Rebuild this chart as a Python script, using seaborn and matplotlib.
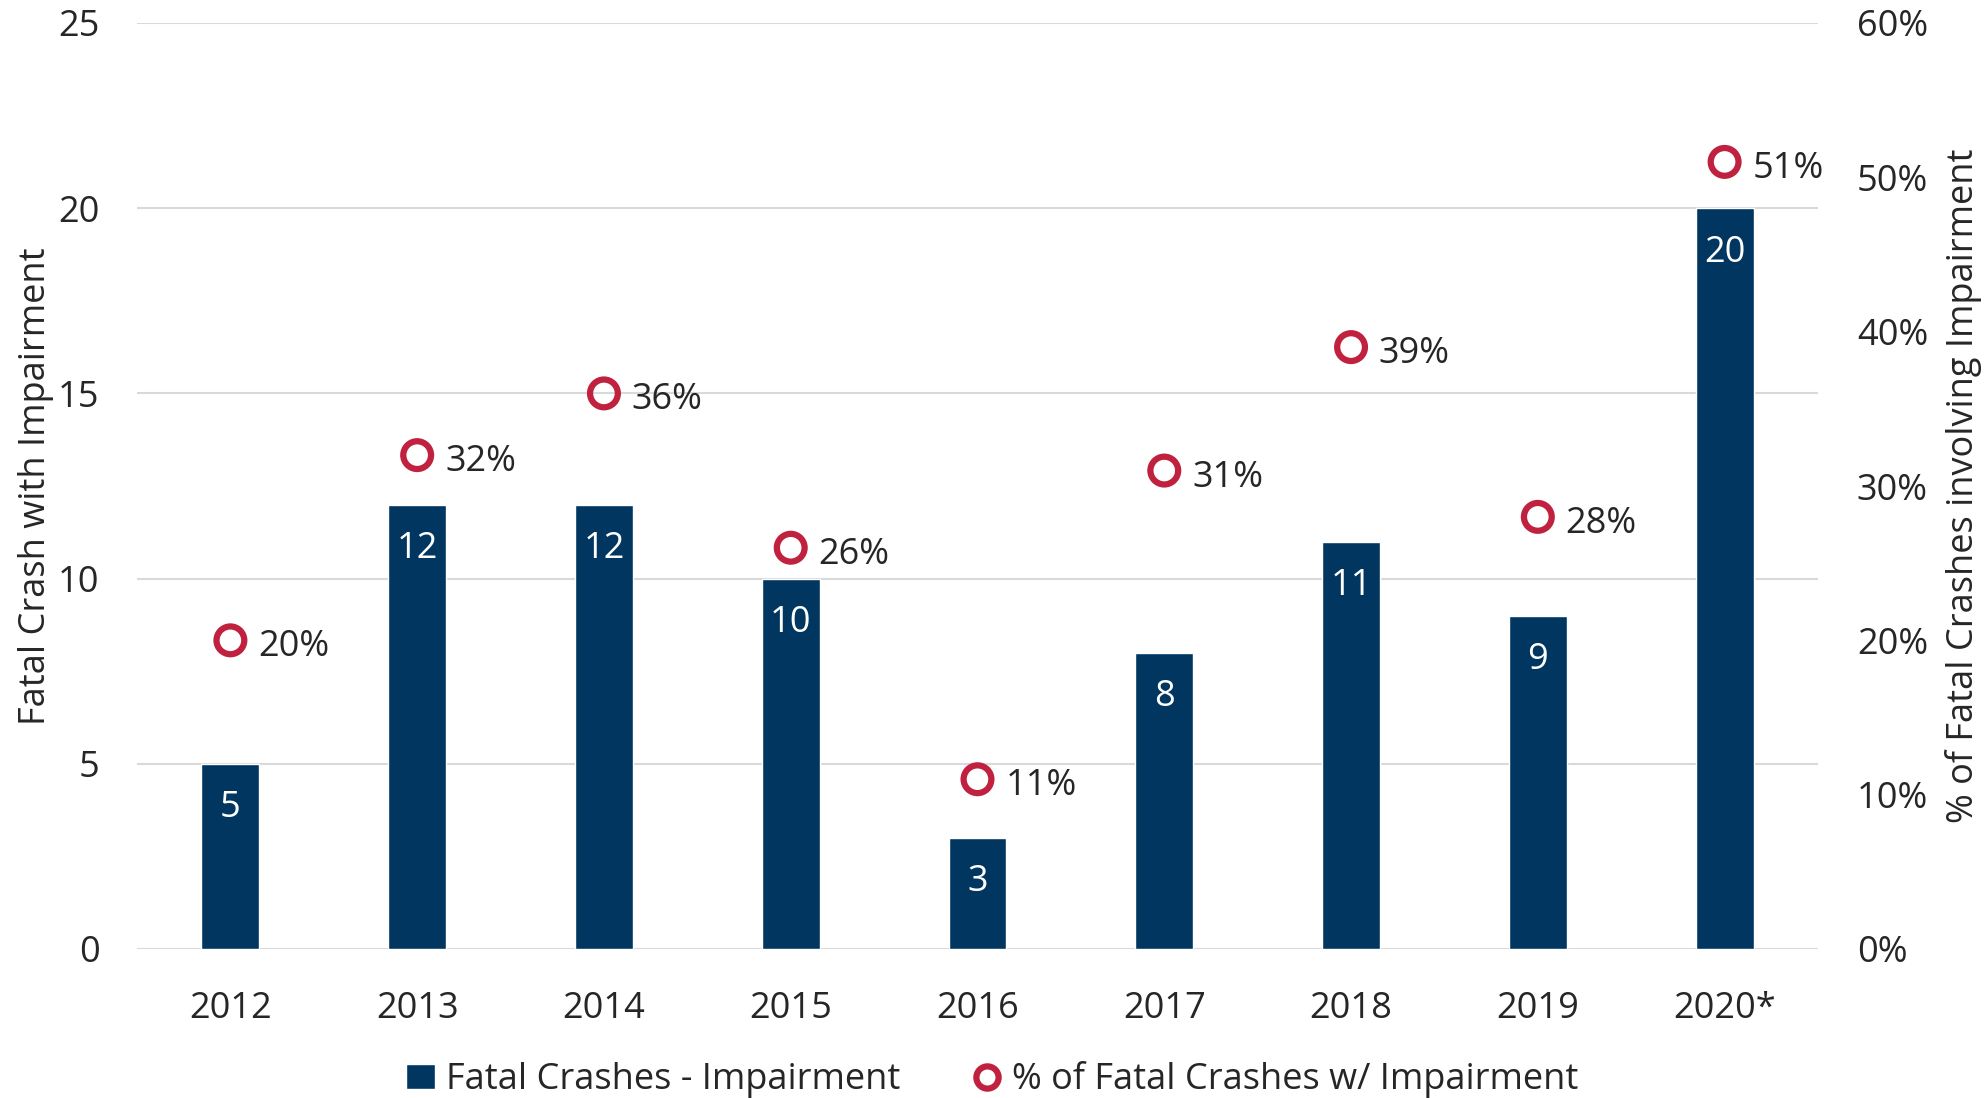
import matplotlib
matplotlib.use("Agg")
import matplotlib.pyplot as plt
import seaborn as sns
import pandas as pd
from matplotlib.lines import Line2D
from matplotlib.patches import Patch

years = ["2012", "2013", "2014", "2015", "2016", "2017", "2018", "2019", "2020*"]
crashes = [5, 12, 12, 10, 3, 8, 11, 9, 20]
pct = [20, 32, 36, 26, 11, 31, 39, 28, 51]

sns.set_theme(style="white")
plt.rcParams['font.family'] = ['Open Sans', 'DejaVu Sans']

bar_color = "#003660"
mark_color = "#C0213F"
fs = 26

df = pd.DataFrame({"year": years, "crashes": crashes, "pct": pct})

fig = plt.figure(figsize=(19.84, 10.98), dpi=100)
ax = fig.add_axes([137/1984, 1 - 949/1098, (1818-137)/1984, (949-23)/1098])
sns.barplot(data=df, x="year", y="crashes", color=bar_color, width=0.31,
            saturation=1, ax=ax, zorder=3)
ax.set_xlim(-0.5, 8.5)
ax.set_ylim(0, 25)
ax.set_yticks([0, 5, 10, 15, 20, 25])
ax.grid(axis="y", color="#D9D9D9", linewidth=1.5, zorder=0)
for s in ax.spines.values():
    s.set_visible(False)
ax.tick_params(axis="y", length=0, labelsize=fs, pad=27)
ax.tick_params(axis="x", length=0, labelsize=fs, pad=30)
ax.set_xlabel("")
ax.set_ylabel("Fatal Crash with Impairment", fontsize=fs, labelpad=3)
for c in ax.containers:
    ax.bar_label(c, labels=[str(v) for v in crashes], label_type="edge",
                 padding=-45, color="white", fontsize=fs)

ax2 = ax.twinx()
sns.scatterplot(x=list(range(len(years))), y=[p / 100 for p in pct], ax=ax2,
                marker="o", s=400, facecolor="none", edgecolor=mark_color,
                linewidth=4.5, zorder=5)
ax2.set_ylim(0, 0.6)
ax2.set_yticks([0, 0.1, 0.2, 0.3, 0.4, 0.5, 0.6])
ax2.set_yticklabels([f"{int(round(v*100))}%" for v in ax2.get_yticks()])
for s in ax2.spines.values():
    s.set_visible(False)
ax2.tick_params(axis="y", length=0, labelsize=fs, pad=28)
ax2.set_ylabel("% of Fatal Crashes involving Impairment", fontsize=fs, labelpad=12)
ax2.grid(False)
for i, p in enumerate(pct):
    ax2.annotate(f"{p}%", (i, p / 100), xytext=(20, -5), textcoords="offset points",
                 ha="left", va="center", fontsize=fs)

handles = [
    Patch(facecolor=bar_color, label="Fatal Crashes - Impairment"),
    Line2D([0], [0], marker="o", linestyle="none", markersize=16,
           markerfacecolor="none", markeredgecolor=mark_color, markeredgewidth=4.5,
           label="% of Fatal Crashes w/ Impairment"),
]
fig.legend(handles=handles, loc="lower center", bbox_to_anchor=(0.5, -0.03), ncol=2,
           frameon=False, fontsize=fs, handlelength=0.8, handletextpad=0.3,
           columnspacing=2.0)

fig.savefig("out.png", dpi=100)
